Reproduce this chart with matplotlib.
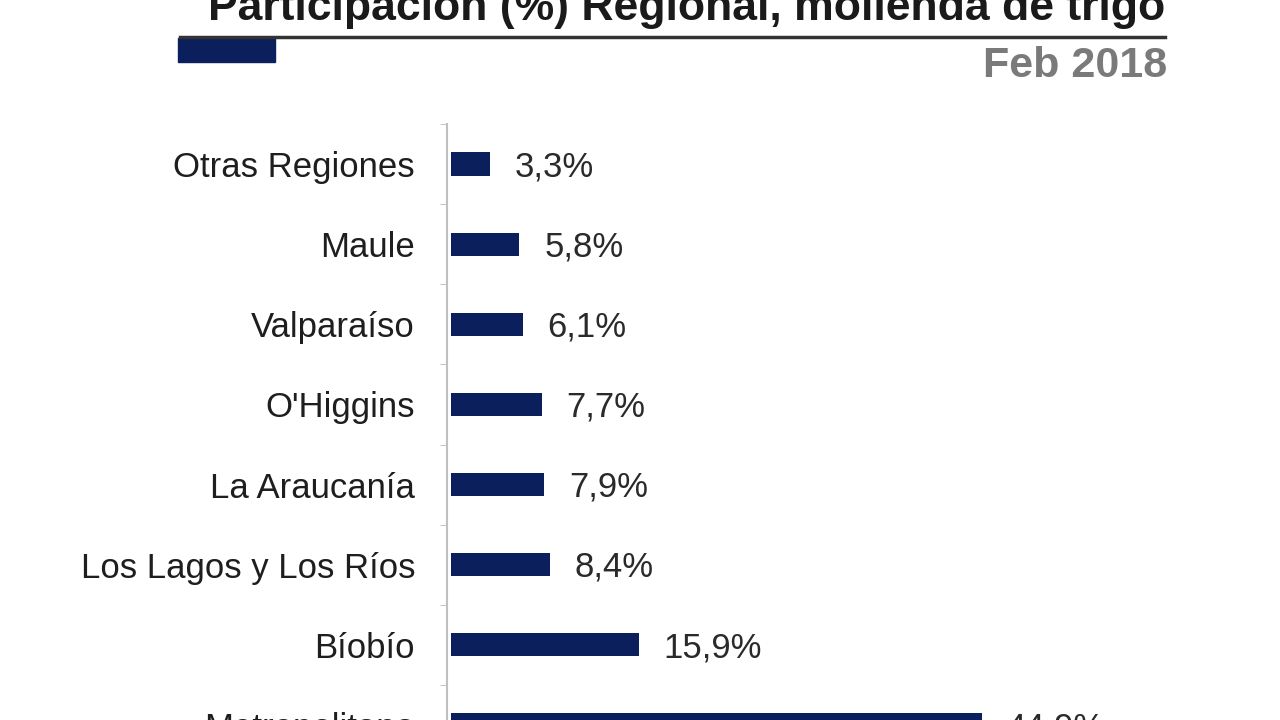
import matplotlib
matplotlib.use('Agg')
import matplotlib.pyplot as plt
from matplotlib.patches import Rectangle
from matplotlib.lines import Line2D

# datos (Feb 2018)
regiones = ['Otras Regiones', 'Maule', 'Valparaíso', "O'Higgins", 'La Araucanía',
            'Los Lagos y Los Ríos', 'Bíobío', 'Metropolitana']
participacion = [3.3, 5.8, 6.1, 7.7, 7.9, 8.4, 15.9, 44.9]
etiquetas = ['3,3%', '5,8%', '6,1%', '7,7%', '7,9%', '8,4%', '15,9%', '44,9%']

azul = '#0b1f5c'
fig = plt.figure(figsize=(12.8, 7.2), dpi=100)
plt.rcParams['font.family'] = ['Liberation Sans', 'DejaVu Sans']

# axes extends below the figure so the last bar is cut like the reference
ax = fig.add_axes([447/1280, -45/720, 705/1280, 641/720])
y = list(range(len(regiones)))
ax.barh(y, participacion, height=0.29, color=azul)
ax.set_ylim(len(regiones) - 0.5, -0.5)
ax.set_xlim(-0.3, 59.3)

ax.set_yticks(y)
ax.set_yticklabels(regiones, fontsize=25, color='#1e1e1e')
ax.tick_params(axis='y', which='major', length=0, pad=23)
ax.set_yticks([i - 0.5 for i in range(len(regiones) + 1)], minor=True)
ax.tick_params(axis='y', which='minor', length=5, color='#bbbbbb', direction='out')
ax.set_xticks([])
for s in ['top', 'right', 'bottom']:
    ax.spines[s].set_visible(False)
ax.spines['left'].set_color('#c0c0c0')
ax.spines['left'].set_linewidth(1.5)

for i, v in enumerate(participacion):
    ax.annotate(etiquetas[i], (v, i), xytext=(18, -2), textcoords='offset points',
                va='center', ha='left', fontsize=25, color='#2a2a2a')

# header
fig.text(1165/1280, 1 - 20/720, 'Participación (%) Regional, molienda de trigo',
         ha='right', va='baseline', fontsize=32, fontweight='bold', color='#1a1a1a')
fig.add_artist(Line2D([180/1280, 1165/1280], [1 - 37/720, 1 - 37/720],
                      color='#333333', lw=2.5))
fig.add_artist(Rectangle((178/1280, 1 - 62/720), 97/1280, 24/720,
                         color=azul, transform=fig.transFigure))
fig.text(1167/1280, 1 - 77/720, 'Feb 2018', ha='right', va='baseline',
         fontsize=31, fontweight='bold', color='#7a7a7a')

plt.savefig('out.png', dpi=100)
